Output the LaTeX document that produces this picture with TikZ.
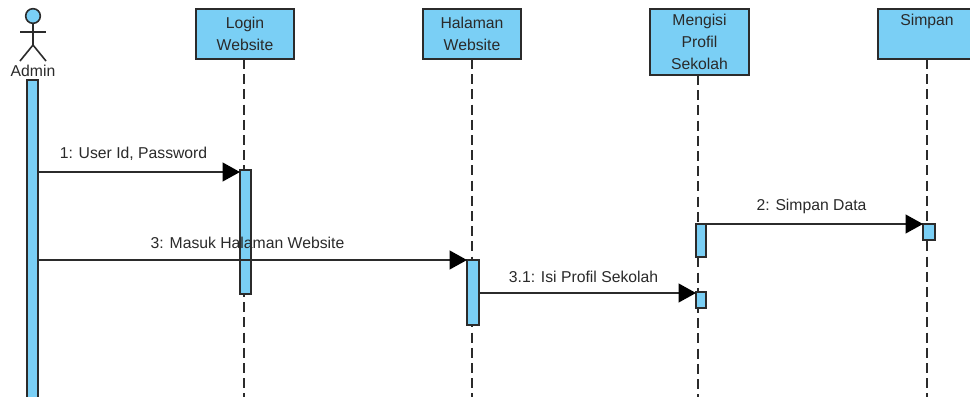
\documentclass[tikz,border=0pt]{standalone}
\usepackage{fontspec}
\setmainfont{Liberation Sans}
\usetikzlibrary{arrows.meta}
\definecolor{umlblue}{HTML}{7ACFF5}
\definecolor{umlline}{HTML}{2B2B2B}
\definecolor{umltext}{HTML}{2A2A2A}
\tikzset{
  lifebox/.style={draw=umlline,fill=umlblue,line width=1.4pt,rectangle,inner sep=0pt,outer sep=0pt,
    minimum width=73.5pt,align=center,text=umltext,anchor=north,
    font=\fontsize{11.8}{16.5}\selectfont},
  actbox/.style={draw=umlline,fill=umlblue,line width=1.4pt,rectangle,inner sep=0pt,outer sep=0pt,anchor=north west},
  lifeline/.style={draw=umlline,line width=1.4pt,dash pattern=on 7.5pt off 3.9pt},
  msg/.style={draw=umlline,line width=1.4pt,-{Triangle[length=13pt,width=14pt,color=black]}},
  msglabel/.style={font=\fontsize{11.8}{14}\selectfont,text=umltext,inner sep=0pt},
  stick/.style={draw=umlline,line width=1.2pt}
}
\newcommand{\actv}[5]{% name x1 y1 x2 y2 in px
  \pgfmathsetmacro{\actw}{(#4-#2)*0.75}
  \pgfmathsetmacro{\acth}{(#5-#3)*0.75}
  \node[actbox,minimum width=\actw pt,minimum height=\acth pt] (#1) at (#2,#3) {};
}
\begin{document}
\begin{tikzpicture}[x=0.75pt,y=-0.75pt]
\clip (0,0) rectangle (970,396);
\fill[white] (0,0) rectangle (970,396);

% lifelines
\node[lifebox,minimum height=37.5pt] (login) at (245,9) {Login\\Website};
\node[lifebox,minimum height=37.5pt] (halaman) at (472,9) {Halaman\\Website};
\node[lifebox,minimum height=49.5pt,minimum width=74.25pt] (mengisi) at (699.5,9) {Mengisi\\Profil\\Sekolah};
\node[lifebox,minimum height=37.5pt] (simpan) at (927,9) {Simpan\\ \strut};

\draw[lifeline] (login.south -| 244,0) -- (244,400);
\draw[lifeline] (halaman.south -| 472,0) -- (472,400);
\draw[lifeline] (mengisi.south -| 698,0) -- (698,400);
\draw[lifeline] (simpan.south -| 927,0) -- (927,400);

% actor
\node[circle,draw=umlline,fill=umlblue,line width=1.2pt,minimum size=11pt,inner sep=0pt] (head) at (33,16) {};
\coordinate (hipp) at (33,45);
\coordinate (armL) at (20,32);
\coordinate (armR) at (46,32);
\coordinate (legL) at (20,61);
\coordinate (legR) at (46,61);
\draw[stick] (head.south) -- (hipp);
\draw[stick] (armL) -- (armR);
\draw[stick] (legL) -- (hipp) -- (legR);
\node[font=\fontsize{11.8}{14}\selectfont,text=umltext,inner sep=0pt] (admin) at (33,71) {Admin};

% activations
\actv{adm}{27}{80}{38}{410}
\actv{a1}{240}{170}{251}{294}
\actv{a2}{467}{260}{479}{325}
\actv{a3}{696}{224}{706}{257}
\actv{a4}{696}{292}{706}{308}
\actv{a5}{923}{224}{935}{240}

% messages
\coordinate (y1) at (0,172);
\coordinate (y2) at (0,224);
\coordinate (y3) at (0,260);
\coordinate (y4) at (0,293);
\draw[msg] (adm.east |- y1) ++(1,0) -- (a1.west |- y1);
\draw[msg] (a3.east |- y2) -- (a5.west |- y2);
\draw[msg] (adm.east |- y3) ++(1,0) -- (a2.west |- y3);
\draw[msg] (a2.east |- y4) -- (a4.west |- y4);

\node[msglabel] (l1) at (133.5,153.5) {1: User Id, Password};
\node[msglabel] (l2) at (811.5,206) {2: Simpan Data};
\node[msglabel] (l3) at (247.5,243) {3: Masuk Halaman Website};
\node[msglabel] (l4) at (583.5,277) {3.1: Isi Profil Sekolah};
\end{tikzpicture}
\end{document}
